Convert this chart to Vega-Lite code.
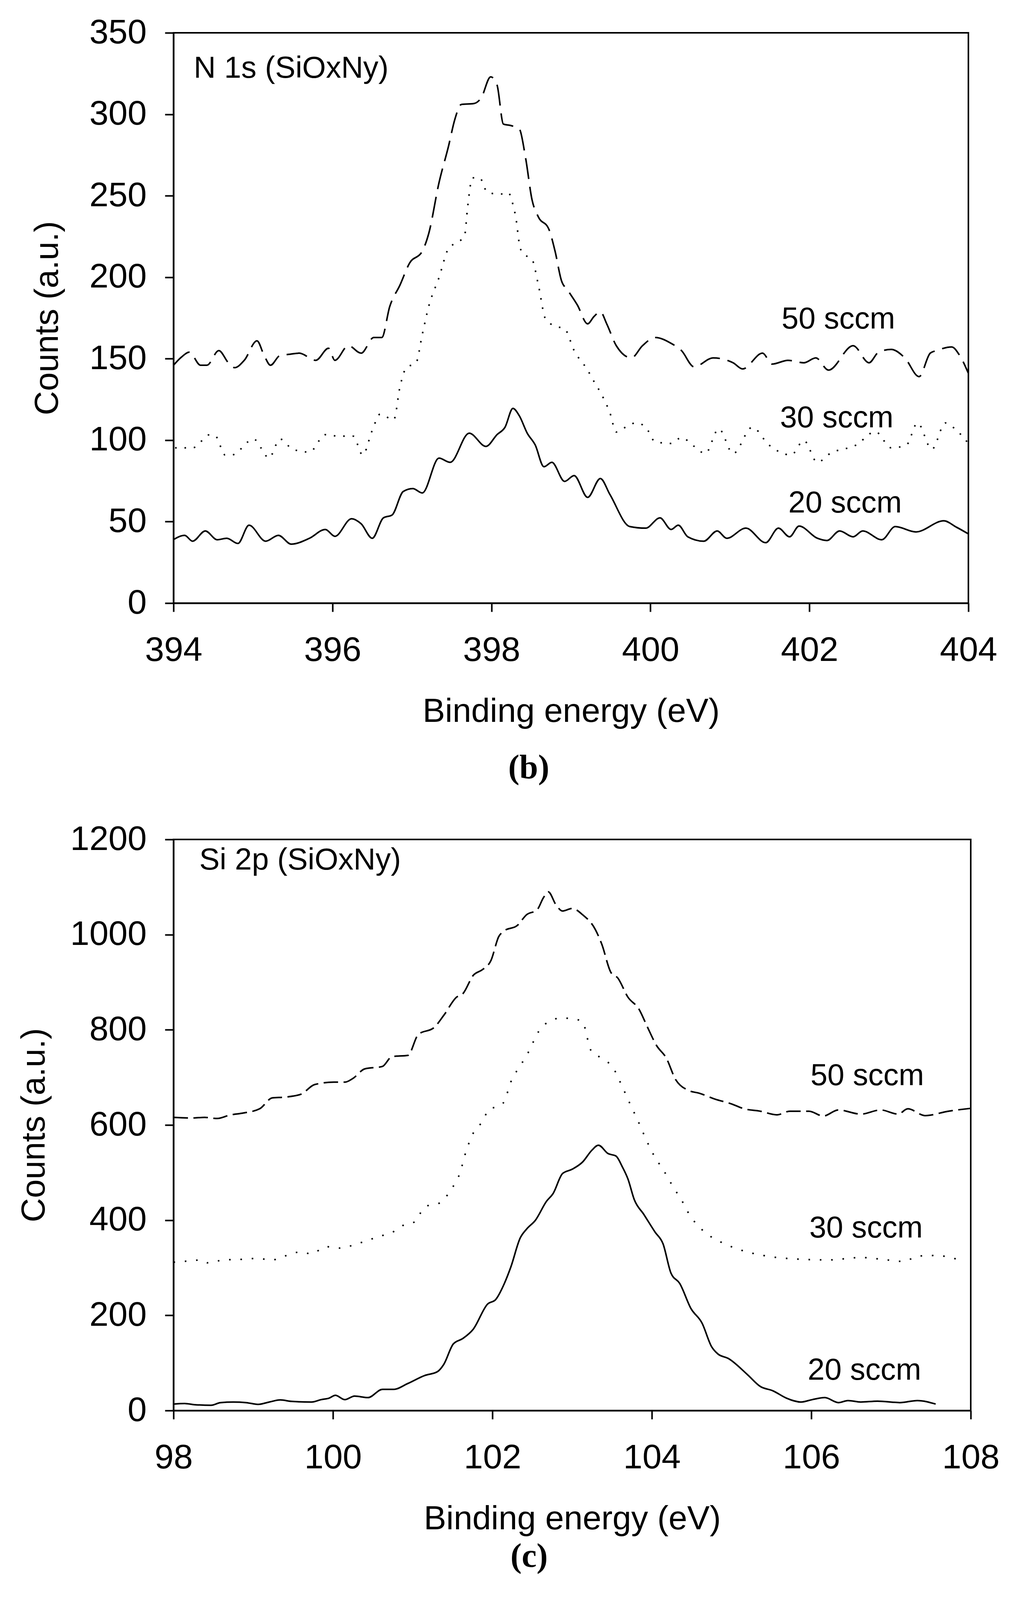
{
  "$schema": "https://vega.github.io/schema/vega-lite/v6.json",
  "description": "XPS spectra of SiOxNy films: N 1s (b) and Si 2p (c) at 20, 30 and 50 sccm",
  "background": "white",
  "padding": {"left": 42, "top": 38, "right": 40, "bottom": 20},
  "spacing": 92,
  "datasets": {
    "n1s": [
      {"s": "50 sccm", "x": 394.0, "y": 146}, {"s": "50 sccm", "x": 394.1, "y": 151}, {"s": "50 sccm", "x": 394.2, "y": 154}, {"s": "50 sccm", "x": 394.34, "y": 146},
      {"s": "50 sccm", "x": 394.42, "y": 146}, {"s": "50 sccm", "x": 394.57, "y": 155}, {"s": "50 sccm", "x": 394.69, "y": 147.5}, {"s": "50 sccm", "x": 394.77, "y": 144.5},
      {"s": "50 sccm", "x": 394.89, "y": 149}, {"s": "50 sccm", "x": 395.05, "y": 161}, {"s": "50 sccm", "x": 395.14, "y": 152}, {"s": "50 sccm", "x": 395.22, "y": 146},
      {"s": "50 sccm", "x": 395.34, "y": 152}, {"s": "50 sccm", "x": 395.46, "y": 152.7}, {"s": "50 sccm", "x": 395.58, "y": 153.4}, {"s": "50 sccm", "x": 395.79, "y": 149},
      {"s": "50 sccm", "x": 395.95, "y": 156.4}, {"s": "50 sccm", "x": 396.03, "y": 149}, {"s": "50 sccm", "x": 396.2, "y": 158}, {"s": "50 sccm", "x": 396.36, "y": 153.4},
      {"s": "50 sccm", "x": 396.52, "y": 163}, {"s": "50 sccm", "x": 396.62, "y": 163}, {"s": "50 sccm", "x": 396.72, "y": 182}, {"s": "50 sccm", "x": 396.85, "y": 195.3},
      {"s": "50 sccm", "x": 396.97, "y": 208.7}, {"s": "50 sccm", "x": 397.13, "y": 216}, {"s": "50 sccm", "x": 397.21, "y": 226.7}, {"s": "50 sccm", "x": 397.34, "y": 258},
      {"s": "50 sccm", "x": 397.46, "y": 280.5}, {"s": "50 sccm", "x": 397.54, "y": 297}, {"s": "50 sccm", "x": 397.62, "y": 306}, {"s": "50 sccm", "x": 397.78, "y": 306.6},
      {"s": "50 sccm", "x": 397.87, "y": 310}, {"s": "50 sccm", "x": 397.99, "y": 323}, {"s": "50 sccm", "x": 398.07, "y": 318}, {"s": "50 sccm", "x": 398.15, "y": 294},
      {"s": "50 sccm", "x": 398.25, "y": 293}, {"s": "50 sccm", "x": 398.35, "y": 291}, {"s": "50 sccm", "x": 398.43, "y": 273}, {"s": "50 sccm", "x": 398.51, "y": 247.6},
      {"s": "50 sccm", "x": 398.59, "y": 237}, {"s": "50 sccm", "x": 398.72, "y": 229.7}, {"s": "50 sccm", "x": 398.8, "y": 216}, {"s": "50 sccm", "x": 398.88, "y": 198},
      {"s": "50 sccm", "x": 398.96, "y": 192}, {"s": "50 sccm", "x": 399.08, "y": 183}, {"s": "50 sccm", "x": 399.21, "y": 171.4}, {"s": "50 sccm", "x": 399.29, "y": 175.9},
      {"s": "50 sccm", "x": 399.37, "y": 178.8}, {"s": "50 sccm", "x": 399.45, "y": 171.4}, {"s": "50 sccm", "x": 399.57, "y": 158}, {"s": "50 sccm", "x": 399.76, "y": 150.5},
      {"s": "50 sccm", "x": 399.9, "y": 158}, {"s": "50 sccm", "x": 400.06, "y": 163}, {"s": "50 sccm", "x": 400.26, "y": 159.4}, {"s": "50 sccm", "x": 400.39, "y": 155},
      {"s": "50 sccm", "x": 400.55, "y": 145}, {"s": "50 sccm", "x": 400.79, "y": 150.5}, {"s": "50 sccm", "x": 401.04, "y": 147.5}, {"s": "50 sccm", "x": 401.16, "y": 143.7},
      {"s": "50 sccm", "x": 401.41, "y": 153.4}, {"s": "50 sccm", "x": 401.53, "y": 146.7}, {"s": "50 sccm", "x": 401.73, "y": 149}, {"s": "50 sccm", "x": 401.93, "y": 147.5},
      {"s": "50 sccm", "x": 402.08, "y": 150.5}, {"s": "50 sccm", "x": 402.24, "y": 143}, {"s": "50 sccm", "x": 402.55, "y": 158}, {"s": "50 sccm", "x": 402.75, "y": 147.5},
      {"s": "50 sccm", "x": 402.87, "y": 154}, {"s": "50 sccm", "x": 403.03, "y": 155.7}, {"s": "50 sccm", "x": 403.2, "y": 150.5}, {"s": "50 sccm", "x": 403.38, "y": 139},
      {"s": "50 sccm", "x": 403.52, "y": 153.4}, {"s": "50 sccm", "x": 403.6, "y": 155}, {"s": "50 sccm", "x": 403.79, "y": 157.2}, {"s": "50 sccm", "x": 403.89, "y": 152},
      {"s": "50 sccm", "x": 404.0, "y": 141},

      {"s": "30 sccm", "x": 394.02, "y": 95.3}, {"s": "30 sccm", "x": 394.24, "y": 95.3}, {"s": "30 sccm", "x": 394.46, "y": 103.4}, {"s": "30 sccm", "x": 394.53, "y": 102.5},
      {"s": "30 sccm", "x": 394.65, "y": 90.9}, {"s": "30 sccm", "x": 394.73, "y": 90.9}, {"s": "30 sccm", "x": 395.01, "y": 100.7}, {"s": "30 sccm", "x": 395.1, "y": 95.3},
      {"s": "30 sccm", "x": 395.2, "y": 89}, {"s": "30 sccm", "x": 395.34, "y": 100.7}, {"s": "30 sccm", "x": 395.5, "y": 94.4}, {"s": "30 sccm", "x": 395.71, "y": 92.7},
      {"s": "30 sccm", "x": 395.91, "y": 103.4}, {"s": "30 sccm", "x": 396.07, "y": 102.5}, {"s": "30 sccm", "x": 396.26, "y": 102.5}, {"s": "30 sccm", "x": 396.38, "y": 90.9},
      {"s": "30 sccm", "x": 396.5, "y": 106}, {"s": "30 sccm", "x": 396.6, "y": 116}, {"s": "30 sccm", "x": 396.77, "y": 112.4}, {"s": "30 sccm", "x": 396.85, "y": 133},
      {"s": "30 sccm", "x": 396.93, "y": 144.6}, {"s": "30 sccm", "x": 397.05, "y": 147.3}, {"s": "30 sccm", "x": 397.13, "y": 165}, {"s": "30 sccm", "x": 397.21, "y": 182},
      {"s": "30 sccm", "x": 397.34, "y": 199.8}, {"s": "30 sccm", "x": 397.46, "y": 217.7}, {"s": "30 sccm", "x": 397.54, "y": 220.7}, {"s": "30 sccm", "x": 397.66, "y": 225},
      {"s": "30 sccm", "x": 397.7, "y": 243}, {"s": "30 sccm", "x": 397.76, "y": 261}, {"s": "30 sccm", "x": 397.85, "y": 261}, {"s": "30 sccm", "x": 397.95, "y": 252},
      {"s": "30 sccm", "x": 398.11, "y": 251}, {"s": "30 sccm", "x": 398.21, "y": 252}, {"s": "30 sccm", "x": 398.27, "y": 244.6}, {"s": "30 sccm", "x": 398.31, "y": 235.6},
      {"s": "30 sccm", "x": 398.35, "y": 220.7}, {"s": "30 sccm", "x": 398.39, "y": 214.7}, {"s": "30 sccm", "x": 398.51, "y": 211}, {"s": "30 sccm", "x": 398.59, "y": 195.3},
      {"s": "30 sccm", "x": 398.68, "y": 174.4}, {"s": "30 sccm", "x": 398.8, "y": 170}, {"s": "30 sccm", "x": 398.92, "y": 168.4}, {"s": "30 sccm", "x": 399.04, "y": 155},
      {"s": "30 sccm", "x": 399.21, "y": 143}, {"s": "30 sccm", "x": 399.29, "y": 136}, {"s": "30 sccm", "x": 399.37, "y": 129.4}, {"s": "30 sccm", "x": 399.49, "y": 116.8},
      {"s": "30 sccm", "x": 399.57, "y": 105}, {"s": "30 sccm", "x": 399.65, "y": 107}, {"s": "30 sccm", "x": 399.82, "y": 110.6}, {"s": "30 sccm", "x": 399.94, "y": 108},
      {"s": "30 sccm", "x": 400.06, "y": 99}, {"s": "30 sccm", "x": 400.26, "y": 98}, {"s": "30 sccm", "x": 400.39, "y": 101.6}, {"s": "30 sccm", "x": 400.55, "y": 96.2},
      {"s": "30 sccm", "x": 400.69, "y": 91.8}, {"s": "30 sccm", "x": 400.86, "y": 107}, {"s": "30 sccm", "x": 401.04, "y": 91.8}, {"s": "30 sccm", "x": 401.28, "y": 107.9},
      {"s": "30 sccm", "x": 401.49, "y": 97.1}, {"s": "30 sccm", "x": 401.77, "y": 90.9}, {"s": "30 sccm", "x": 401.93, "y": 99.8}, {"s": "30 sccm", "x": 402.1, "y": 86.4},
      {"s": "30 sccm", "x": 402.26, "y": 91.8}, {"s": "30 sccm", "x": 402.59, "y": 97.1}, {"s": "30 sccm", "x": 402.83, "y": 105.2}, {"s": "30 sccm", "x": 403.03, "y": 95.3},
      {"s": "30 sccm", "x": 403.22, "y": 97}, {"s": "30 sccm", "x": 403.36, "y": 110.6}, {"s": "30 sccm", "x": 403.54, "y": 94.4}, {"s": "30 sccm", "x": 403.71, "y": 110.6},
      {"s": "30 sccm", "x": 403.83, "y": 107}, {"s": "30 sccm", "x": 404.0, "y": 98},

      {"s": "20 sccm", "x": 394.0, "y": 39}, {"s": "20 sccm", "x": 394.14, "y": 41.6}, {"s": "20 sccm", "x": 394.24, "y": 38}, {"s": "20 sccm", "x": 394.4, "y": 44.3},
      {"s": "20 sccm", "x": 394.55, "y": 38.9}, {"s": "20 sccm", "x": 394.67, "y": 39.8}, {"s": "20 sccm", "x": 394.81, "y": 36.6}, {"s": "20 sccm", "x": 394.95, "y": 47.8},
      {"s": "20 sccm", "x": 395.16, "y": 38}, {"s": "20 sccm", "x": 395.32, "y": 41.6}, {"s": "20 sccm", "x": 395.48, "y": 36.2}, {"s": "20 sccm", "x": 395.71, "y": 39.8},
      {"s": "20 sccm", "x": 395.91, "y": 45.2}, {"s": "20 sccm", "x": 396.03, "y": 41}, {"s": "20 sccm", "x": 396.24, "y": 51.8}, {"s": "20 sccm", "x": 396.36, "y": 48.7},
      {"s": "20 sccm", "x": 396.5, "y": 39.8}, {"s": "20 sccm", "x": 396.64, "y": 52.3}, {"s": "20 sccm", "x": 396.75, "y": 54.1}, {"s": "20 sccm", "x": 396.89, "y": 68.5},
      {"s": "20 sccm", "x": 397.01, "y": 70.3}, {"s": "20 sccm", "x": 397.13, "y": 67.6}, {"s": "20 sccm", "x": 397.34, "y": 89}, {"s": "20 sccm", "x": 397.48, "y": 86.4},
      {"s": "20 sccm", "x": 397.72, "y": 104.3}, {"s": "20 sccm", "x": 397.93, "y": 96.2}, {"s": "20 sccm", "x": 398.07, "y": 103.4}, {"s": "20 sccm", "x": 398.17, "y": 107.9},
      {"s": "20 sccm", "x": 398.27, "y": 119.5}, {"s": "20 sccm", "x": 398.35, "y": 115}, {"s": "20 sccm", "x": 398.45, "y": 104.3}, {"s": "20 sccm", "x": 398.55, "y": 97.1},
      {"s": "20 sccm", "x": 398.66, "y": 83.7}, {"s": "20 sccm", "x": 398.76, "y": 86.4}, {"s": "20 sccm", "x": 398.92, "y": 74.7}, {"s": "20 sccm", "x": 399.04, "y": 78.3},
      {"s": "20 sccm", "x": 399.21, "y": 64.9}, {"s": "20 sccm", "x": 399.37, "y": 76.5}, {"s": "20 sccm", "x": 399.49, "y": 66.7}, {"s": "20 sccm", "x": 399.74, "y": 47},
      {"s": "20 sccm", "x": 399.94, "y": 46}, {"s": "20 sccm", "x": 400.12, "y": 52.3}, {"s": "20 sccm", "x": 400.26, "y": 45.2}, {"s": "20 sccm", "x": 400.35, "y": 47.8},
      {"s": "20 sccm", "x": 400.47, "y": 40.7}, {"s": "20 sccm", "x": 400.67, "y": 38}, {"s": "20 sccm", "x": 400.84, "y": 44.3}, {"s": "20 sccm", "x": 400.96, "y": 39.8},
      {"s": "20 sccm", "x": 401.2, "y": 46}, {"s": "20 sccm", "x": 401.45, "y": 37.1}, {"s": "20 sccm", "x": 401.61, "y": 46}, {"s": "20 sccm", "x": 401.75, "y": 40.7},
      {"s": "20 sccm", "x": 401.87, "y": 47.3}, {"s": "20 sccm", "x": 402.1, "y": 39.8}, {"s": "20 sccm", "x": 402.22, "y": 38.4}, {"s": "20 sccm", "x": 402.38, "y": 44.3},
      {"s": "20 sccm", "x": 402.55, "y": 40.7}, {"s": "20 sccm", "x": 402.67, "y": 44.3}, {"s": "20 sccm", "x": 402.91, "y": 38.9}, {"s": "20 sccm", "x": 403.08, "y": 47},
      {"s": "20 sccm", "x": 403.34, "y": 43.7}, {"s": "20 sccm", "x": 403.69, "y": 50.5}, {"s": "20 sccm", "x": 403.85, "y": 46.6}, {"s": "20 sccm", "x": 404.0, "y": 42.5}
    ],
    "si2p": [
      {"s": "50 sccm", "x": 98.0, "y": 616}, {"s": "50 sccm", "x": 98.22, "y": 614.7}, {"s": "50 sccm", "x": 98.39, "y": 616}, {"s": "50 sccm", "x": 98.55, "y": 613.7},
      {"s": "50 sccm", "x": 98.71, "y": 621}, {"s": "50 sccm", "x": 98.87, "y": 625}, {"s": "50 sccm", "x": 99.08, "y": 634}, {"s": "50 sccm", "x": 99.24, "y": 657},
      {"s": "50 sccm", "x": 99.4, "y": 658.6}, {"s": "50 sccm", "x": 99.6, "y": 664.7}, {"s": "50 sccm", "x": 99.77, "y": 685}, {"s": "50 sccm", "x": 100.01, "y": 690},
      {"s": "50 sccm", "x": 100.15, "y": 690}, {"s": "50 sccm", "x": 100.25, "y": 697.8}, {"s": "50 sccm", "x": 100.4, "y": 718}, {"s": "50 sccm", "x": 100.62, "y": 723},
      {"s": "50 sccm", "x": 100.74, "y": 743.7}, {"s": "50 sccm", "x": 100.94, "y": 746.3}, {"s": "50 sccm", "x": 101.07, "y": 790}, {"s": "50 sccm", "x": 101.27, "y": 805},
      {"s": "50 sccm", "x": 101.39, "y": 830.4}, {"s": "50 sccm", "x": 101.55, "y": 868.6}, {"s": "50 sccm", "x": 101.63, "y": 876}, {"s": "50 sccm", "x": 101.76, "y": 914.5},
      {"s": "50 sccm", "x": 101.88, "y": 927}, {"s": "50 sccm", "x": 101.98, "y": 945}, {"s": "50 sccm", "x": 102.08, "y": 996}, {"s": "50 sccm", "x": 102.15, "y": 1008},
      {"s": "50 sccm", "x": 102.31, "y": 1019}, {"s": "50 sccm", "x": 102.43, "y": 1042}, {"s": "50 sccm", "x": 102.56, "y": 1052}, {"s": "50 sccm", "x": 102.64, "y": 1077.6},
      {"s": "50 sccm", "x": 102.7, "y": 1090}, {"s": "50 sccm", "x": 102.8, "y": 1062}, {"s": "50 sccm", "x": 102.88, "y": 1049.6}, {"s": "50 sccm", "x": 103.0, "y": 1055},
      {"s": "50 sccm", "x": 103.13, "y": 1042}, {"s": "50 sccm", "x": 103.29, "y": 1011}, {"s": "50 sccm", "x": 103.37, "y": 980.8}, {"s": "50 sccm", "x": 103.49, "y": 919.6},
      {"s": "50 sccm", "x": 103.57, "y": 909.4}, {"s": "50 sccm", "x": 103.7, "y": 868.6}, {"s": "50 sccm", "x": 103.84, "y": 843}, {"s": "50 sccm", "x": 103.94, "y": 807.5},
      {"s": "50 sccm", "x": 104.06, "y": 766.7}, {"s": "50 sccm", "x": 104.18, "y": 741}, {"s": "50 sccm", "x": 104.3, "y": 695}, {"s": "50 sccm", "x": 104.47, "y": 672},
      {"s": "50 sccm", "x": 104.59, "y": 667}, {"s": "50 sccm", "x": 104.79, "y": 654.5}, {"s": "50 sccm", "x": 105.0, "y": 644.3}, {"s": "50 sccm", "x": 105.16, "y": 634},
      {"s": "50 sccm", "x": 105.36, "y": 629}, {"s": "50 sccm", "x": 105.57, "y": 621.4}, {"s": "50 sccm", "x": 105.73, "y": 629}, {"s": "50 sccm", "x": 105.97, "y": 629},
      {"s": "50 sccm", "x": 106.15, "y": 618.8}, {"s": "50 sccm", "x": 106.34, "y": 631.6}, {"s": "50 sccm", "x": 106.62, "y": 622.9}, {"s": "50 sccm", "x": 106.87, "y": 631.6},
      {"s": "50 sccm", "x": 107.09, "y": 622.9}, {"s": "50 sccm", "x": 107.21, "y": 634}, {"s": "50 sccm", "x": 107.43, "y": 619.8}, {"s": "50 sccm", "x": 107.72, "y": 629},
      {"s": "50 sccm", "x": 108.0, "y": 635},

      {"s": "30 sccm", "x": 98.0, "y": 311.6}, {"s": "30 sccm", "x": 98.22, "y": 314.7}, {"s": "30 sccm", "x": 98.35, "y": 316.5}, {"s": "30 sccm", "x": 98.43, "y": 310.4},
      {"s": "30 sccm", "x": 98.63, "y": 316.5}, {"s": "30 sccm", "x": 98.87, "y": 317.8}, {"s": "30 sccm", "x": 99.04, "y": 319.6}, {"s": "30 sccm", "x": 99.24, "y": 316.5},
      {"s": "30 sccm", "x": 99.36, "y": 322.7}, {"s": "30 sccm", "x": 99.6, "y": 333.2}, {"s": "30 sccm", "x": 99.73, "y": 329}, {"s": "30 sccm", "x": 99.91, "y": 344.4},
      {"s": "30 sccm", "x": 100.09, "y": 341.3}, {"s": "30 sccm", "x": 100.25, "y": 347.4}, {"s": "30 sccm", "x": 100.42, "y": 356.7}, {"s": "30 sccm", "x": 100.58, "y": 366},
      {"s": "30 sccm", "x": 100.74, "y": 374}, {"s": "30 sccm", "x": 100.86, "y": 387.6}, {"s": "30 sccm", "x": 101.03, "y": 397}, {"s": "30 sccm", "x": 101.15, "y": 427.8},
      {"s": "30 sccm", "x": 101.35, "y": 437}, {"s": "30 sccm", "x": 101.47, "y": 461.8}, {"s": "30 sccm", "x": 101.59, "y": 498}, {"s": "30 sccm", "x": 101.67, "y": 545},
      {"s": "30 sccm", "x": 101.76, "y": 583}, {"s": "30 sccm", "x": 101.88, "y": 608.6}, {"s": "30 sccm", "x": 101.96, "y": 634}, {"s": "30 sccm", "x": 102.08, "y": 639},
      {"s": "30 sccm", "x": 102.15, "y": 650}, {"s": "30 sccm", "x": 102.23, "y": 690}, {"s": "30 sccm", "x": 102.33, "y": 720}, {"s": "30 sccm", "x": 102.43, "y": 746},
      {"s": "30 sccm", "x": 102.52, "y": 776.9}, {"s": "30 sccm", "x": 102.6, "y": 802}, {"s": "30 sccm", "x": 102.72, "y": 817.6}, {"s": "30 sccm", "x": 102.86, "y": 825},
      {"s": "30 sccm", "x": 103.02, "y": 822.7}, {"s": "30 sccm", "x": 103.13, "y": 817.6}, {"s": "30 sccm", "x": 103.2, "y": 776.9}, {"s": "30 sccm", "x": 103.25, "y": 751.4},
      {"s": "30 sccm", "x": 103.37, "y": 741}, {"s": "30 sccm", "x": 103.53, "y": 715.7}, {"s": "30 sccm", "x": 103.61, "y": 687.6}, {"s": "30 sccm", "x": 103.72, "y": 646.8},
      {"s": "30 sccm", "x": 103.84, "y": 603.5}, {"s": "30 sccm", "x": 103.94, "y": 565}, {"s": "30 sccm", "x": 104.04, "y": 532}, {"s": "30 sccm", "x": 104.14, "y": 506.7},
      {"s": "30 sccm", "x": 104.26, "y": 472}, {"s": "30 sccm", "x": 104.39, "y": 437}, {"s": "30 sccm", "x": 104.47, "y": 412}, {"s": "30 sccm", "x": 104.55, "y": 393.8},
      {"s": "30 sccm", "x": 104.71, "y": 369}, {"s": "30 sccm", "x": 104.91, "y": 350.5}, {"s": "30 sccm", "x": 105.16, "y": 335}, {"s": "30 sccm", "x": 105.4, "y": 325.8},
      {"s": "30 sccm", "x": 105.81, "y": 318.4}, {"s": "30 sccm", "x": 106.22, "y": 316.5}, {"s": "30 sccm", "x": 106.62, "y": 321.5}, {"s": "30 sccm", "x": 106.95, "y": 316.5},
      {"s": "30 sccm", "x": 107.15, "y": 313.4}, {"s": "30 sccm", "x": 107.35, "y": 324.6}, {"s": "30 sccm", "x": 107.56, "y": 325.8}, {"s": "30 sccm", "x": 107.86, "y": 316.5},

      {"s": "20 sccm", "x": 98.0, "y": 13.6}, {"s": "20 sccm", "x": 98.14, "y": 14.8}, {"s": "20 sccm", "x": 98.26, "y": 12.4}, {"s": "20 sccm", "x": 98.47, "y": 11.1},
      {"s": "20 sccm", "x": 98.59, "y": 16.7}, {"s": "20 sccm", "x": 98.75, "y": 17.9}, {"s": "20 sccm", "x": 98.91, "y": 16.7}, {"s": "20 sccm", "x": 99.06, "y": 13},
      {"s": "20 sccm", "x": 99.2, "y": 17.9}, {"s": "20 sccm", "x": 99.34, "y": 22.3}, {"s": "20 sccm", "x": 99.48, "y": 19.2}, {"s": "20 sccm", "x": 99.73, "y": 17.9},
      {"s": "20 sccm", "x": 99.85, "y": 22.9}, {"s": "20 sccm", "x": 99.95, "y": 26}, {"s": "20 sccm", "x": 100.03, "y": 32}, {"s": "20 sccm", "x": 100.15, "y": 22.9},
      {"s": "20 sccm", "x": 100.27, "y": 30.3}, {"s": "20 sccm", "x": 100.44, "y": 27.2}, {"s": "20 sccm", "x": 100.62, "y": 44.5}, {"s": "20 sccm", "x": 100.76, "y": 44.5},
      {"s": "20 sccm", "x": 100.94, "y": 56.9}, {"s": "20 sccm", "x": 101.15, "y": 73.6}, {"s": "20 sccm", "x": 101.31, "y": 81.6}, {"s": "20 sccm", "x": 101.39, "y": 97},
      {"s": "20 sccm", "x": 101.51, "y": 140}, {"s": "20 sccm", "x": 101.63, "y": 151.5}, {"s": "20 sccm", "x": 101.76, "y": 171}, {"s": "20 sccm", "x": 101.94, "y": 223.8},
      {"s": "20 sccm", "x": 102.04, "y": 233}, {"s": "20 sccm", "x": 102.15, "y": 267}, {"s": "20 sccm", "x": 102.23, "y": 301}, {"s": "20 sccm", "x": 102.35, "y": 363},
      {"s": "20 sccm", "x": 102.43, "y": 381.5}, {"s": "20 sccm", "x": 102.54, "y": 400}, {"s": "20 sccm", "x": 102.68, "y": 440}, {"s": "20 sccm", "x": 102.76, "y": 455.6},
      {"s": "20 sccm", "x": 102.88, "y": 498}, {"s": "20 sccm", "x": 103.0, "y": 507}, {"s": "20 sccm", "x": 103.13, "y": 522}, {"s": "20 sccm", "x": 103.25, "y": 547.4},
      {"s": "20 sccm", "x": 103.33, "y": 557.6}, {"s": "20 sccm", "x": 103.45, "y": 540}, {"s": "20 sccm", "x": 103.55, "y": 534.7}, {"s": "20 sccm", "x": 103.63, "y": 512},
      {"s": "20 sccm", "x": 103.7, "y": 486.6}, {"s": "20 sccm", "x": 103.78, "y": 443}, {"s": "20 sccm", "x": 103.9, "y": 412}, {"s": "20 sccm", "x": 104.04, "y": 375},
      {"s": "20 sccm", "x": 104.14, "y": 350.5}, {"s": "20 sccm", "x": 104.24, "y": 288.7}, {"s": "20 sccm", "x": 104.35, "y": 267}, {"s": "20 sccm", "x": 104.49, "y": 214.5},
      {"s": "20 sccm", "x": 104.63, "y": 183.6}, {"s": "20 sccm", "x": 104.75, "y": 134}, {"s": "20 sccm", "x": 104.83, "y": 118.7}, {"s": "20 sccm", "x": 104.96, "y": 109.4},
      {"s": "20 sccm", "x": 105.2, "y": 75.4}, {"s": "20 sccm", "x": 105.36, "y": 50.7}, {"s": "20 sccm", "x": 105.52, "y": 41.4}, {"s": "20 sccm", "x": 105.69, "y": 26},
      {"s": "20 sccm", "x": 105.87, "y": 17.9}, {"s": "20 sccm", "x": 106.01, "y": 22.9}, {"s": "20 sccm", "x": 106.17, "y": 27.2}, {"s": "20 sccm", "x": 106.34, "y": 16.7},
      {"s": "20 sccm", "x": 106.46, "y": 21}, {"s": "20 sccm", "x": 106.62, "y": 17.9}, {"s": "20 sccm", "x": 106.83, "y": 19.8}, {"s": "20 sccm", "x": 107.11, "y": 16.7},
      {"s": "20 sccm", "x": 107.33, "y": 21}, {"s": "20 sccm", "x": 107.56, "y": 13.6}
    ],
    "n1s_labels": [
      {"x": 394.255, "y": 322.4, "text": "N 1s (SiOxNy)"},
      {"x": 401.65, "y": 168.6, "text": "50 sccm"},
      {"x": 401.63, "y": 107.8, "text": "30 sccm"},
      {"x": 401.735, "y": 55.5, "text": "20 sccm"}
    ],
    "si2p_labels": [
      {"x": 98.324, "y": 1136.4, "text": "Si 2p (SiOxNy)"},
      {"x": 105.99, "y": 684, "text": "50 sccm"},
      {"x": 105.975, "y": 364, "text": "30 sccm"},
      {"x": 105.955, "y": 65, "text": "20 sccm"}
    ]
  },
  "vconcat": [
    {
      "width": 2034,
      "height": 1460,
      "title": {"text": "(b)", "orient": "bottom", "anchor": "middle", "frame": "group", "dx": -108, "offset": 60},
      "layer": [
        {
          "data": {"name": "n1s"},
          "transform": [{"filter": "datum.s === '50 sccm'"}],
          "mark": {"type": "line", "color": "black", "strokeWidth": 4, "interpolate": "monotone", "strokeDash": [54, 20], "clip": true},
          "encoding": {
            "x": {"field": "x", "type": "quantitative", "title": "Binding energy (eV)", "scale": {"domain": [394, 404], "nice": false, "zero": false}, "axis": {"values": [394, 396, 398, 400, 402, 404], "format": "d"}},
            "y": {"field": "y", "type": "quantitative", "title": "Counts (a.u.)", "scale": {"domain": [0, 350], "nice": false}, "axis": {"values": [0, 50, 100, 150, 200, 250, 300, 350], "format": "d", "titleX": -279}}
          }
        },
        {
          "data": {"name": "n1s"},
          "transform": [{"filter": "datum.s === '30 sccm'"}],
          "mark": {"type": "line", "color": "black", "strokeWidth": 4, "interpolate": "monotone", "strokeDash": [4, 20], "clip": true},
          "encoding": {
            "x": {"field": "x", "type": "quantitative"},
            "y": {"field": "y", "type": "quantitative"}
          }
        },
        {
          "data": {"name": "n1s"},
          "transform": [{"filter": "datum.s === '20 sccm'"}],
          "mark": {"type": "line", "color": "black", "strokeWidth": 4, "interpolate": "monotone", "clip": true},
          "encoding": {
            "x": {"field": "x", "type": "quantitative"},
            "y": {"field": "y", "type": "quantitative"}
          }
        },
        {
          "data": {"name": "n1s_labels"},
          "mark": {"type": "text", "align": "left", "baseline": "alphabetic", "fontSize": 78, "color": "black"},
          "encoding": {
            "x": {"field": "x", "type": "quantitative"},
            "y": {"field": "y", "type": "quantitative"},
            "text": {"field": "text"}
          }
        }
      ]
    },
    {
      "width": 2040,
      "height": 1462,
      "title": {"text": "(c)", "orient": "bottom", "anchor": "middle", "frame": "group", "dx": -110, "offset": 12},
      "layer": [
        {
          "data": {"name": "si2p"},
          "transform": [{"filter": "datum.s === '50 sccm'"}],
          "mark": {"type": "line", "color": "black", "strokeWidth": 4, "interpolate": "monotone", "strokeDash": [37, 14], "clip": true},
          "encoding": {
            "x": {"field": "x", "type": "quantitative", "title": "Binding energy (eV)", "scale": {"domain": [98, 108], "nice": false, "zero": false}, "axis": {"values": [98, 100, 102, 104, 106, 108], "format": "d"}},
            "y": {"field": "y", "type": "quantitative", "title": "Counts (a.u.)", "scale": {"domain": [0, 1200], "nice": false}, "axis": {"values": [0, 200, 400, 600, 800, 1000, 1200], "format": "d", "titleX": -313}}
          }
        },
        {
          "data": {"name": "si2p"},
          "transform": [{"filter": "datum.s === '30 sccm'"}],
          "mark": {"type": "line", "color": "black", "strokeWidth": 4, "interpolate": "monotone", "strokeDash": [4, 25], "clip": true},
          "encoding": {
            "x": {"field": "x", "type": "quantitative"},
            "y": {"field": "y", "type": "quantitative"}
          }
        },
        {
          "data": {"name": "si2p"},
          "transform": [{"filter": "datum.s === '20 sccm'"}],
          "mark": {"type": "line", "color": "black", "strokeWidth": 4, "interpolate": "monotone", "clip": true},
          "encoding": {
            "x": {"field": "x", "type": "quantitative"},
            "y": {"field": "y", "type": "quantitative"}
          }
        },
        {
          "data": {"name": "si2p_labels"},
          "mark": {"type": "text", "align": "left", "baseline": "alphabetic", "fontSize": 78, "color": "black"},
          "encoding": {
            "x": {"field": "x", "type": "quantitative"},
            "y": {"field": "y", "type": "quantitative"},
            "text": {"field": "text"}
          }
        }
      ]
    }
  ],
  "config": {
    "font": "Liberation Sans",
    "view": {"stroke": "black", "strokeWidth": 4},
    "axis": {
      "grid": false,
      "domainColor": "black",
      "domainWidth": 4,
      "tickColor": "black",
      "tickWidth": 4,
      "tickSize": 22,
      "labelFont": "Liberation Sans",
      "labelFontSize": 88,
      "labelColor": "black",
      "labelFlush": false,
      "labelLimit": 1000,
      "titleFont": "Liberation Sans",
      "titleFontSize": 86,
      "titleFontWeight": "normal",
      "titleColor": "black",
      "titleLimit": 3000
    },
    "axisX": {"labelPadding": 55, "titleY": 235},
    "axisY": {"labelPadding": 47},
    "title": {"font": "Liberation Serif", "fontWeight": "bold", "fontSize": 86, "color": "black"}
  }
}
